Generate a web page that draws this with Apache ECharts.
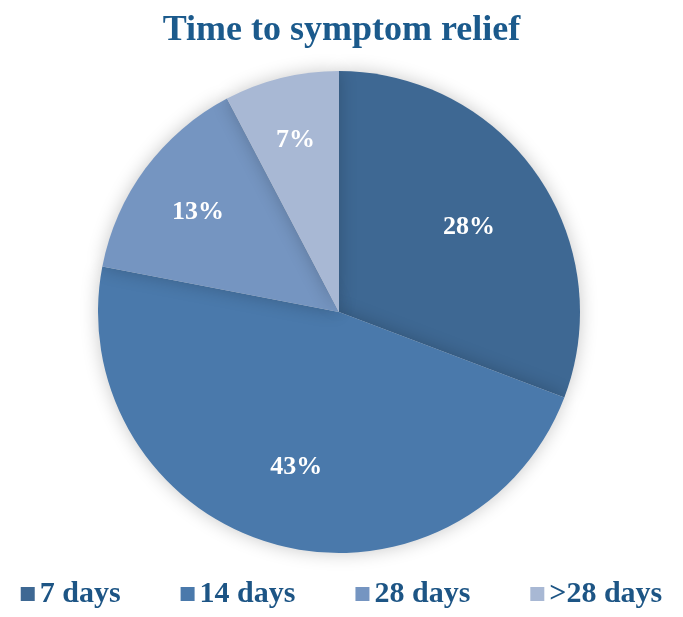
<!DOCTYPE html>
<html>
<head>
<meta charset="utf-8">
<script src="https://cdn.jsdelivr.net/npm/echarts@6/dist/echarts.min.js"></script>
<style>
  html, body { margin: 0; padding: 0; background: #fff; }
  #chart { width: 683px; height: 617px; }
</style>
</head>
<body>
<div id="chart"></div>
<script>
const categories = ['7 days', '14 days', '28 days', '>28 days'];
const values = [28, 43, 13, 7];
const colors = ['#3e6893', '#4a79ab', '#7595c1', '#a8b8d4'];

const serif = '"Liberation Serif", "DejaVu Serif", serif';
const cx = 339, cy = 312, R = 241;
// labels of the small slices sit a little further from the centre
const labelPush = [0.99, 0.98, 1.10, 1.14];

const pieData = categories.map((name, i) => ({
  name, value: values[i], itemStyle: { color: colors[i] },
}));

const chart = echarts.init(document.getElementById('chart'));
chart.setOption({
  title: {
    text: 'Time to symptom relief', left: 'center', top: 8,
    textStyle: { color: '#1b5a8c', fontSize: 36, fontWeight: 'bold', fontFamily: serif },
  },
  legend: {
    bottom: 3, left: 'center', itemGap: 60,
    itemWidth: 14, itemHeight: 14, icon: 'rect',
    data: categories,
    textStyle: { color: '#1d5585', fontSize: 30, fontWeight: 'bold', fontFamily: serif },
  },
  series: [
    {
      type: 'pie', center: [cx, cy], radius: [0, R],
      startAngle: 90, clockwise: true,
      data: pieData,
      label: { show: false }, labelLine: { show: false },
      itemStyle: { shadowBlur: 18, shadowColor: 'rgba(0,0,0,0.22)' },
      emphasis: { disabled: true },
    },
    {
      // transparent copy, only used to place the percentage labels
      type: 'pie', center: [cx, cy], radius: [0, R * 1.3],
      startAngle: 90, clockwise: true, silent: true,
      data: pieData.map(d => ({ name: d.name, value: d.value, itemStyle: { color: 'rgba(0,0,0,0)' } })),
      legendHoverLink: false,
      label: {
        show: true, position: 'inside',
        formatter: p => p.value + '%',
        color: '#fff', fontSize: 26, fontWeight: 'bold', fontFamily: serif,
      },
      labelLayout: p => {
        const k = labelPush[p.dataIndex] || 1;
        const r = p.labelRect;
        const mx = r.x + r.width / 2 - cx, my = r.y + r.height / 2 - cy;
        return { dx: mx * (k - 1), dy: my * (k - 1) + 5 };
      },
      labelLine: { show: false },
      emphasis: { disabled: true },
    },
  ],
});
</script>
</body>
</html>
